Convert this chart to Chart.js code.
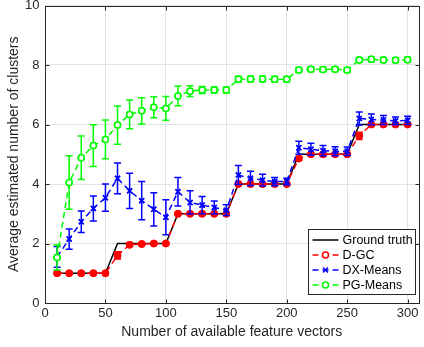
<!DOCTYPE html>
<html><head><meta charset="utf-8">
<script src="https://cdn.jsdelivr.net/npm/chart.js@4/dist/chart.umd.min.js"></script>
<style>html,body{margin:0;padding:0;background:#fff}#wrap{width:424px;height:347px}</style>
</head><body><div id="wrap"><canvas id="c" width="424" height="347"></canvas></div>
<script>
const xValues = [10,20,30,40,50,60,70,80,90,100,110,120,130,140,150,160,170,180,190,200,210,220,230,240,250,260,270,280,290,300];
const groundTruth = [1,1,1,1,1,2,2,2,2,2,3,3,3,3,3,4,4,4,4,4,5,5,5,5,5,6,6,6,6,6];
const dgcMean = [1,1,1,1,1,1.6,1.96,1.98,2,2,3,3,3,3,3,4,4,4,4,4,4.86,5,5,5,5,5.62,6,6,6,6];
const dgcErr  = [0,0,0,0,0,0.12,0.05,0.03,0,0,0.02,0,0,0,0,0.02,0,0,0,0,0.06,0,0,0,0,0.12,0.02,0,0,0];
const dxMean = [1.55,2.15,2.73,3.18,3.54,4.19,3.77,3.44,3.15,2.88,3.74,3.38,3.29,3.21,3.12,4.3,4.19,4.13,4.08,4.08,5.22,5.17,5.12,5.1,5.1,6.2,6.17,6.15,6.12,6.14];
const dxErr  = [0.35,0.34,0.36,0.42,0.46,0.52,0.59,0.64,0.56,0.59,0.48,0.39,0.29,0.22,0.18,0.32,0.24,0.2,0.14,0.11,0.22,0.2,0.17,0.15,0.14,0.22,0.18,0.15,0.13,0.14];
const pgMean = [1.53,4.05,4.88,5.29,5.5,5.98,6.34,6.46,6.58,6.54,6.96,7.12,7.16,7.16,7.16,7.52,7.53,7.53,7.52,7.52,7.83,7.86,7.85,7.86,7.83,8.17,8.19,8.17,8.16,8.18];
const pgErr  = [0.42,0.9,0.73,0.7,0.65,0.64,0.48,0.44,0.35,0.4,0.33,0.18,0.12,0.1,0.1,0.1,0.09,0.09,0.09,0.09,0.08,0.08,0.08,0.08,0.08,0.08,0.08,0.08,0.08,0.08];
const seriesNames = ['Ground truth','D-GC','DX-Means','PG-Means'];
const xTicks = [0,50,100,150,200,250,300];
const yTicks = [0,2,4,6,8,10];

const FONT = 'Liberation Sans, Arial, Helvetica, sans-serif';
const AX = '#262626';
const pts = (ys) => xValues.map((x,i)=>({x:x,y:ys[i]}));

const errorBars = {
  id:'errorBars',
  afterDatasetDraw(chart, args){
    const ds = chart.data.datasets[args.index];
    if(!ds.errors) return;
    const ctx = chart.ctx, ys = chart.scales.y, meta = args.meta;
    ctx.save();
    ctx.strokeStyle = ds.borderColor; ctx.lineWidth = 1.5; ctx.setLineDash([]);
    meta.data.forEach((p,i)=>{
      const e = ds.errors[i]; if(!e) return;
      const v = ds.data[i].y;
      const t = ys.getPixelForValue(v+e), b = ys.getPixelForValue(v-e), x = p.x;
      ctx.beginPath();
      ctx.moveTo(x,t); ctx.lineTo(x,b);
      ctx.moveTo(x-3.5,t); ctx.lineTo(x+3.5,t);
      ctx.moveTo(x-3.5,b); ctx.lineTo(x+3.5,b);
      ctx.stroke();
    });
    meta.data.forEach(p=>p.draw(ctx, chart.chartArea));
    ctx.restore();
  }
};

const frame = {
  id:'frame',
  beforeDatasetsDraw(chart){
    const ctx = chart.ctx, a = chart.chartArea, xs = chart.scales.x, ys = chart.scales.y;
    const L = Math.round(a.left)+0.5, R = Math.round(a.right)+0.5, T = Math.round(a.top)+0.5, B = Math.round(a.bottom)+0.5;
    ctx.save();
    ctx.strokeStyle = AX; ctx.lineWidth = 1;
    ctx.strokeRect(L,T,R-L,B-T);
    ctx.beginPath();
    xTicks.forEach(v=>{const x=Math.round(xs.getPixelForValue(v))+0.5; ctx.moveTo(x,B); ctx.lineTo(x,B-4); ctx.moveTo(x,T); ctx.lineTo(x,T+4);});
    yTicks.forEach(v=>{const y=Math.round(ys.getPixelForValue(v))+0.5; ctx.moveTo(L,y); ctx.lineTo(L+4,y); ctx.moveTo(R,y); ctx.lineTo(R-4,y);});
    ctx.stroke();
    ctx.restore();
  }
};

const legendBox = {
  id:'legendBox',
  afterDraw(chart){
    const ctx = chart.ctx, a = chart.chartArea;
    const w = 107, h = 65;
    const x0 = 308.5, y0 = Math.round(a.bottom) - h - 9 + 0.5;
    ctx.save();
    ctx.fillStyle = '#fff'; ctx.fillRect(x0,y0,w,h);
    ctx.strokeStyle = AX; ctx.lineWidth = 1; ctx.strokeRect(x0,y0,w,h);
    chart.data.datasets.forEach((ds,i)=>{
      const cy = y0 + 10.5 + i*15;
      ctx.strokeStyle = ds.borderColor; ctx.lineWidth = 1.5;
      ctx.setLineDash(ds.borderDash || []);
      ctx.beginPath(); ctx.moveTo(x0+4, cy); ctx.lineTo(x0+30, cy); ctx.stroke();
      ctx.setLineDash([]);
      if(ds.pointRadius){
        ctx.fillStyle = '#fff'; ctx.strokeStyle = ds.borderColor; ctx.lineWidth = ds.pointBorderWidth;
        if(ds.pointStyle==='circle'){ctx.beginPath(); ctx.arc(x0+17,cy,ds.pointRadius,0,Math.PI*2); ctx.fill(); ctx.stroke();}
        else {Chart.helpers.drawPoint(ctx,{pointStyle:ds.pointStyle,radius:ds.pointRadius,borderWidth:ds.pointBorderWidth,rotation:0},x0+17,cy);}
      }
      ctx.fillStyle = '#000'; ctx.font = '12.5px ' + FONT; ctx.textBaseline = 'middle'; ctx.textAlign='left';
      ctx.fillText(ds.label, x0+34, cy+0.5);
    });
    ctx.restore();
  }
};

new Chart(document.getElementById('c'), {
  type:'line',
  data:{ datasets:[
    {label:seriesNames[0], data:pts(groundTruth), borderColor:'#000000', borderWidth:1.5, pointRadius:0, order:4},
    {label:seriesNames[1], data:pts(dgcMean), errors:dgcErr, borderColor:'#ff0000', backgroundColor:'#ff0000', borderWidth:1.5, borderDash:[6,4], pointStyle:'circle', pointRadius:3, pointBorderWidth:1.5, pointBackgroundColor:'#ff0000', order:3},
    {label:seriesNames[2], data:pts(dxMean), errors:dxErr, borderColor:'#0000ff', backgroundColor:'#0000ff', borderWidth:1.5, borderDash:[6,4], pointStyle:'crossRot', pointRadius:3.5, pointBorderWidth:1.5, order:2},
    {label:seriesNames[3], data:pts(pgMean), errors:pgErr, borderColor:'#00ff00', backgroundColor:'#ffffff', borderWidth:1.5, borderDash:[6,4], pointStyle:'circle', pointRadius:3, pointBorderWidth:1.5, pointBackgroundColor:'#ffffff', order:1}
  ]},
  options:{
    responsive:false, animation:false, devicePixelRatio:1,
    layout:{padding:{top:5,right:1,left:0,bottom:0}},
    plugins:{legend:{display:false}, tooltip:{enabled:false}},
    elements:{line:{tension:0}},
    scales:{
      x:{type:'linear', min:0, max:309,
        afterBuildTicks(s){s.ticks = xTicks.map(v=>({value:v}));},
        ticks:{color:AX, font:{family:FONT,size:13}, padding:3, maxRotation:0, autoSkip:false},
        grid:{color:'#e3e3e3', drawTicks:false}, border:{display:false},
        title:{display:true, text:'Number of available feature vectors', color:AX, font:{family:FONT,size:14}, padding:{top:0,bottom:6.5}},
        afterFit(s){s.height=44; s.paddingLeft=0; s.paddingRight=0;}
      },
      y:{min:0, max:10,
        afterBuildTicks(s){s.ticks = yTicks.map(v=>({value:v}));},
        ticks:{color:AX, font:{family:FONT,size:13}, padding:5.5, autoSkip:false},
        grid:{color:'#e3e3e3', drawTicks:false}, border:{display:false},
        title:{display:true, text:'Average estimated number of clusters', color:AX, font:{family:FONT,size:14}, padding:{top:6,bottom:0}},
        afterFit(s){s.width=45; s.paddingTop=0; s.paddingBottom=0;}
      }
    }
  },
  plugins:[frame, errorBars, legendBox]
});
</script></body></html>
